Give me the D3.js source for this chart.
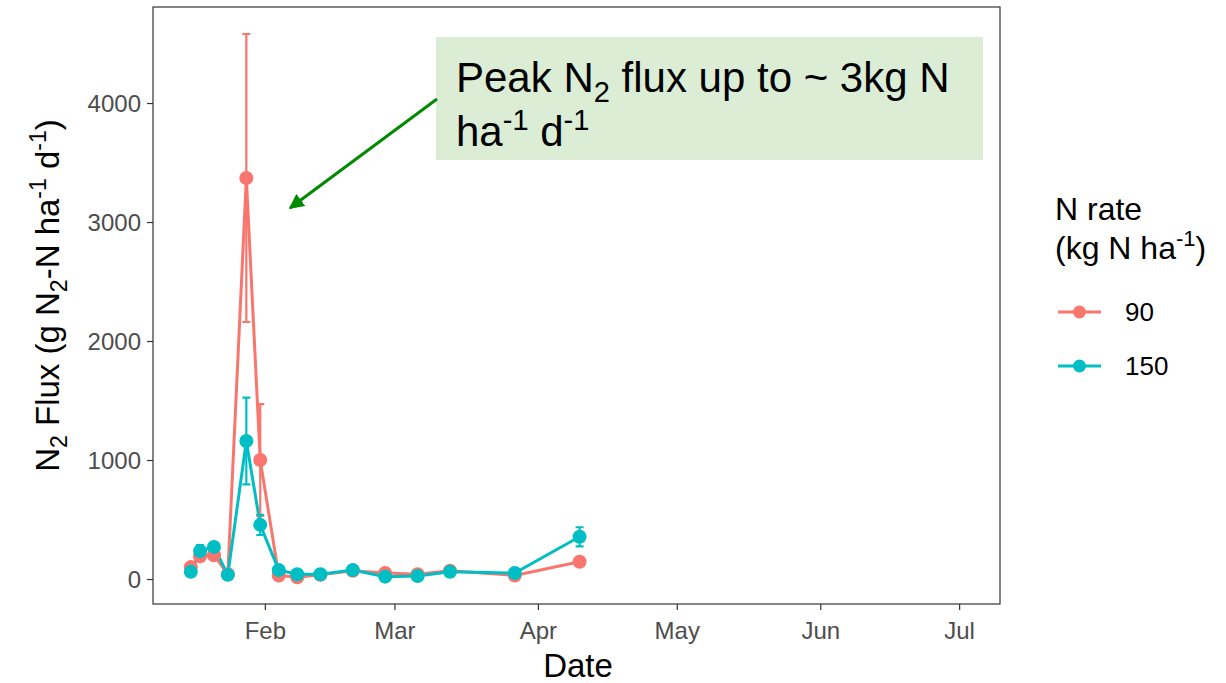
<!DOCTYPE html>
<html>
<head>
<meta charset="utf-8">
<script src="https://cdn.jsdelivr.net/npm/d3@7"></script>
<style>
  body { margin: 0; background: #fff; }
  svg { font-family: "Liberation Sans", Arial, sans-serif; }
</style>
</head>
<body>
<svg id="chart" width="1226" height="683"></svg>
<script>
const dates = ["2019-01-16", "2019-01-18", "2019-01-21", "2019-01-24", "2019-01-28", "2019-01-31",
  "2019-02-04", "2019-02-08", "2019-02-13", "2019-02-20", "2019-02-27", "2019-03-06",
  "2019-03-13", "2019-03-27", "2019-04-10"];
const flux90 = [100, 190, 200, 40, 3370, 1000, 30, 15, 35, 70, 50, 40, 70, 30, 145];
const err90 = [20, 30, 30, 10, 1210, 470, 10, 8, 10, 15, 10, 10, 15, 10, 15];
const flux150 = [60, 235, 270, 35, 1160, 455, 75, 40, 40, 75, 20, 25, 60, 50, 355];
const err150 = [15, 50, 25, 10, 365, 85, 15, 8, 10, 15, 8, 8, 15, 10, 80];
const rates = ["90", "150"];
const colors = ["#F8766D", "#00BFC4"];
const monthTicks = ["2019-02-01", "2019-03-01", "2019-04-01", "2019-05-01", "2019-06-01", "2019-07-01"];
const yTicks = [0, 1000, 2000, 3000, 4000];

const parse = d3.timeParse("%Y-%m-%d");
const svg = d3.select("#chart");

const margin = { left: 153, right: 1000, top: 7, bottom: 604 };

const x = d3.scaleTime()
  .domain([new Date(2019, 0, 7, 20), new Date(2019, 6, 9, 20)])
  .range([margin.left, margin.right]);
const y = d3.scaleLinear()
  .domain([-210, 4807])
  .range([margin.bottom, margin.top]);

const series = [
  { rate: rates[0], color: colors[0], values: dates.map((d, i) => ({ date: parse(d), v: flux90[i], e: err90[i] })) },
  { rate: rates[1], color: colors[1], values: dates.map((d, i) => ({ date: parse(d), v: flux150[i], e: err150[i] })) }
];

// axes
const xAxis = svg.append("g")
  .attr("transform", `translate(0,${margin.bottom})`)
  .call(d3.axisBottom(x).tickValues(monthTicks.map(parse)).tickFormat(d3.timeFormat("%b")).tickSize(6).tickPadding(6));
const yAxis = svg.append("g")
  .attr("transform", `translate(${margin.left},0)`)
  .call(d3.axisLeft(y).tickValues(yTicks).tickFormat(d3.format("d")).tickSize(6).tickPadding(6));

[xAxis, yAxis].forEach(g => {
  g.select(".domain").remove();
  g.selectAll(".tick line").attr("stroke", "#333333").attr("stroke-width", 1.2);
  g.selectAll(".tick text").attr("fill", "#4D4D4D").style("font-size", "24px").style("font-family", "Liberation Sans, Arial, sans-serif");
});
xAxis.selectAll(".tick text").attr("dy", "0.95em");
yAxis.selectAll(".tick text").attr("dy", "0.35em");

// lines
const line = d3.line().x(d => x(d.date)).y(d => y(d.v));
svg.append("g").selectAll("path")
  .data(series)
  .enter()
  .append("path")
  .attr("d", d => line(d.values))
  .attr("fill", "none")
  .attr("stroke", d => d.color)
  .attr("stroke-width", 3);

// error bars
const eb = svg.append("g").selectAll("g")
  .data(series)
  .enter()
  .append("g")
  .attr("stroke", d => d.color)
  .attr("stroke-width", 2.2);
eb.selectAll("path")
  .data(d => d.values)
  .enter()
  .append("path")
  .attr("fill", "none")
  .attr("d", d => {
    const cx = x(d.date), t = y(d.v + d.e), b = y(d.v - d.e), w = 4;
    return `M${cx - w},${t}H${cx + w}M${cx},${t}V${b}M${cx - w},${b}H${cx + w}`;
  });

// points
svg.append("g").selectAll("g")
  .data(series)
  .enter()
  .append("g")
  .attr("fill", d => d.color)
  .selectAll("circle")
  .data(d => d.values)
  .enter()
  .append("circle")
  .attr("cx", d => x(d.date))
  .attr("cy", d => y(d.v))
  .attr("r", 7);

// panel border
svg.append("rect")
  .attr("x", margin.left)
  .attr("y", margin.top)
  .attr("width", margin.right - margin.left)
  .attr("height", margin.bottom - margin.top)
  .attr("fill", "none")
  .attr("stroke", "#333333")
  .attr("stroke-width", 1.2);

// axis titles
svg.append("text")
  .attr("x", 578)
  .attr("y", 677)
  .attr("text-anchor", "middle")
  .style("font-size", "33px")
  .text("Date");

const yt = svg.append("text")
  .attr("transform", `translate(59,${(margin.top + margin.bottom) / 2 - 10}) rotate(-90)`)
  .attr("text-anchor", "middle")
  .style("font-size", "33px");
yt.append("tspan").text("N");
yt.append("tspan").attr("dy", 8).style("font-size", "23px").text("2");
yt.append("tspan").attr("dy", -8).text(" Flux (g N");
yt.append("tspan").attr("dy", 8).style("font-size", "23px").text("2");
yt.append("tspan").attr("dy", -8).text("-N ha");
yt.append("tspan").attr("dy", -13).style("font-size", "23px").text("-1");
yt.append("tspan").attr("dy", 13).text(" d");
yt.append("tspan").attr("dy", -13).style("font-size", "23px").text("-1");
yt.append("tspan").attr("dy", 13).text(")");

// annotation
svg.append("rect")
  .attr("x", 436).attr("y", 37)
  .attr("width", 547).attr("height", 123)
  .attr("fill", "#DCEDD6");
const a1 = svg.append("text").attr("x", 456).attr("y", 92).style("font-size", "42px");
a1.append("tspan").text("Peak N");
a1.append("tspan").attr("dy", 10).style("font-size", "29px").text("2");
a1.append("tspan").attr("dy", -10).text(" flux up to ~ 3kg N");
const a2 = svg.append("text").attr("x", 456).attr("y", 146).style("font-size", "42px");
a2.append("tspan").text("ha");
a2.append("tspan").attr("dy", -16).style("font-size", "29px").text("-1");
a2.append("tspan").attr("dy", 16).text(" d");
a2.append("tspan").attr("dy", -16).style("font-size", "29px").text("-1");

svg.append("defs").append("marker")
  .attr("id", "arrow")
  .attr("viewBox", "0 0 10 10")
  .attr("refX", 9).attr("refY", 5)
  .attr("markerWidth", 5).attr("markerHeight", 5)
  .attr("orient", "auto")
  .append("path")
  .attr("d", "M0,0L10,5L0,10z")
  .attr("fill", "#008A00");
svg.append("line")
  .attr("x1", 437).attr("y1", 99)
  .attr("x2", 290).attr("y2", 208)
  .attr("stroke", "#008A00")
  .attr("stroke-width", 3)
  .attr("marker-end", "url(#arrow)");

// legend
const lg = svg.append("g");
lg.append("text").attr("x", 1055).attr("y", 220).style("font-size", "32px").text("N rate");
const lt = lg.append("text").attr("x", 1055).attr("y", 259).style("font-size", "32px");
lt.append("tspan").text("(kg N ha");
lt.append("tspan").attr("dy", -13).style("font-size", "22px").text("-1");
lt.append("tspan").attr("dy", 13).text(")");

const items = lg.selectAll("g.item")
  .data(series)
  .enter()
  .append("g")
  .attr("class", "item")
  .attr("transform", (d, i) => `translate(0,${312 + i * 54})`);
items.append("line")
  .attr("x1", 1058).attr("x2", 1101)
  .attr("stroke", d => d.color)
  .attr("stroke-width", 3);
items.append("circle")
  .attr("cx", 1079.5).attr("r", 6.5)
  .attr("fill", d => d.color);
items.append("text")
  .attr("x", 1125).attr("dy", "0.36em")
  .style("font-size", "26px")
  .text(d => d.rate);
</script>
</body>
</html>
